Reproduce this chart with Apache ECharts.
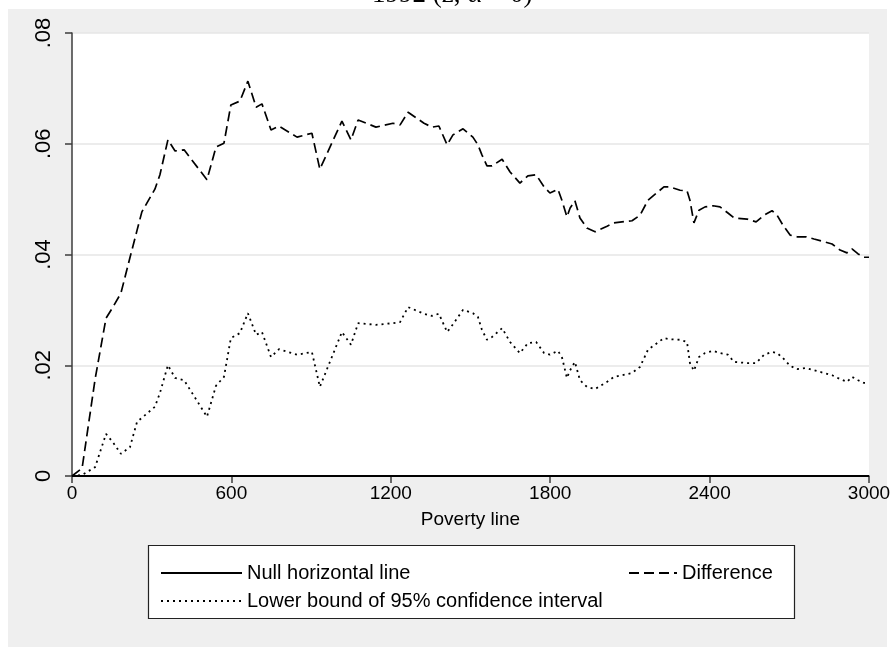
<!DOCTYPE html>
<html>
<head>
<meta charset="utf-8">
<title>Poverty dominance: difference and lower confidence bound</title>
<script src="https://cdn.jsdelivr.net/npm/echarts@6/dist/echarts.min.js"></script>
<style>
  html, body { margin: 0; padding: 0; background: #ffffff; }
  #chart { width: 895px; height: 647px; }
</style>
</head>
<body>
<div id="chart"></div>
<script>
// Poverty line grid (x) shared by both estimated curves
const povertyLine = [
  0, 38, 87, 128, 154, 184, 218, 245, 263, 312, 331, 361, 388, 422, 508, 542, 572, 598,
  632, 662, 693, 715, 749, 779, 847, 903, 933, 1016, 1050, 1077, 1144, 1208, 1235, 1265,
  1325, 1355, 1381, 1412, 1434, 1472, 1509, 1528, 1543, 1562, 1581, 1619, 1649, 1686,
  1716, 1747, 1777, 1799, 1829, 1844, 1863, 1875, 1893, 1912, 1938, 1969, 2014, 2040,
  2108, 2138, 2168, 2228, 2251, 2289, 2315, 2326, 2341, 2360, 2383, 2413, 2439, 2469,
  2492, 2541, 2575, 2605, 2635, 2654, 2676, 2703, 2729, 2763, 2793, 2831, 2861, 2891,
  2917, 2936, 2959, 2981, 3000
];

// Estimated difference between the two curves
const difference = [
  0, 0.0014, 0.0175, 0.0285, 0.0305, 0.0330, 0.0394, 0.0444, 0.0477, 0.0518, 0.0544,
  0.0607, 0.0587, 0.0589, 0.0535, 0.0594, 0.0601, 0.0670, 0.0677, 0.0713, 0.0666,
  0.0672, 0.0625, 0.0632, 0.0612, 0.0619, 0.0554, 0.0641, 0.0607, 0.0643, 0.0630,
  0.0637, 0.0634, 0.0657, 0.0637, 0.0630, 0.0632, 0.0598, 0.0616, 0.0627, 0.0612,
  0.0598, 0.0580, 0.0560, 0.0560, 0.0572, 0.0549, 0.0529, 0.0542, 0.0544, 0.0522,
  0.0511, 0.0518, 0.0498, 0.0468, 0.0484, 0.0497, 0.0466, 0.0448, 0.0441, 0.0451,
  0.0457, 0.0461, 0.0471, 0.0498, 0.0522, 0.0522, 0.0516, 0.0515, 0.0498, 0.0457,
  0.0480, 0.0486, 0.0488, 0.0486, 0.0475, 0.0466, 0.0464, 0.0459, 0.0471, 0.0479,
  0.0471, 0.0453, 0.0435, 0.0432, 0.0432, 0.0428, 0.0423, 0.0419, 0.0408, 0.0403,
  0.0410, 0.0401, 0.0395, 0.0395
];

// Lower bound of the 95% confidence interval of the difference
const lowerBound = [
  0, 0.0002, 0.0016, 0.0076, 0.0061, 0.0040, 0.0052, 0.0098, 0.0105, 0.0125, 0.0150,
  0.0200, 0.0177, 0.0173, 0.0107, 0.0163, 0.0179, 0.0249, 0.0258, 0.0294, 0.0255,
  0.0260, 0.0215, 0.0229, 0.0219, 0.0224, 0.0161, 0.0260, 0.0237, 0.0276, 0.0273,
  0.0276, 0.0278, 0.0305, 0.0293, 0.0289, 0.0293, 0.0260, 0.0274, 0.0300, 0.0294,
  0.0287, 0.0264, 0.0246, 0.0251, 0.0267, 0.0242, 0.0222, 0.0240, 0.0242, 0.0222,
  0.0219, 0.0226, 0.0215, 0.0177, 0.0191, 0.0206, 0.0173, 0.0161, 0.0157, 0.0170,
  0.0179, 0.0186, 0.0197, 0.0228, 0.0249, 0.0247, 0.0246, 0.0242, 0.0204, 0.0190,
  0.0215, 0.0222, 0.0226, 0.0222, 0.0219, 0.0206, 0.0204, 0.0204, 0.0219, 0.0224,
  0.0222, 0.0213, 0.0199, 0.0193, 0.0195, 0.0191, 0.0186, 0.0182, 0.0175, 0.0170,
  0.0179, 0.0173, 0.0168, 0.0168
];

// Reference line at zero
const nullX = [0, 3000];
const nullY = [0, 0];

// Axis ticks and their labels
const xTicks = [0, 600, 1200, 1800, 2400, 3000];
const yTicks = [0, 0.02, 0.04, 0.06, 0.08];
const yTickLabels = ['0', '.02', '.04', '.06', '.08'];

const NAME_NULL = 'Null horizontal line';
const NAME_DIFF = 'Difference';
const NAME_LOW = 'Lower bound of 95% confidence interval';

const pairs = (xs, ys) => xs.map((x, i) => [x, ys[i]]);

const FONT = '"Liberation Sans", Arial, Helvetica, sans-serif';
const AXIS_COLOR = '#3c3c3c';

const chart = echarts.init(document.getElementById('chart'), null, { renderer: 'canvas' });

const legendText = { fontFamily: FONT, fontSize: 20, color: '#000' };
// legend keys show the line pattern only, no marker
const legendBase = {
  itemHeight: 14, itemGap: 10, textStyle: legendText, selectedMode: false,
  itemStyle: { opacity: 0 }
};

chart.setOption({
  animation: false,
  backgroundColor: '#ffffff',
  graphic: [
    // graph region background
    { type: 'rect', z: -10, silent: true,
      shape: { x: 8, y: 9, width: 879, height: 640 },
      style: { fill: '#efefef' } },
    // title, mostly above the visible area
    { type: 'text', z: -5, silent: true, left: 372, top: -19,
      style: { text: '1992 (z, \u03b1 = 0)', font: '27px "Liberation Serif", "DejaVu Serif", serif', fill: '#000' } },
    // legend frame
    { type: 'rect', z: 1, silent: true,
      shape: { x: 148.5, y: 545.5, width: 646, height: 73 },
      style: { fill: '#ffffff', stroke: '#222', lineWidth: 1.2 } }
  ],
  grid: {
    left: 72, right: 26, top: 33, bottom: 171,
    show: true, backgroundColor: '#ffffff', borderWidth: 0
  },
  xAxis: {
    type: 'value', min: 0, max: 3000, interval: 600,
    name: 'Poverty line', nameLocation: 'middle', nameGap: 34,
    nameTextStyle: { fontFamily: FONT, fontSize: 19, color: '#000' },
    axisLine: { show: true, onZero: false, lineStyle: { color: AXIS_COLOR, width: 1.5 } },
    axisTick: { show: true, length: 7, lineStyle: { color: AXIS_COLOR, width: 1.5 } },
    axisLabel: { fontFamily: FONT, fontSize: 19, color: '#000', margin: 8,
      formatter: v => (xTicks.indexOf(v) >= 0 ? String(v) : '') },
    splitLine: { show: false }
  },
  yAxis: {
    type: 'value', min: 0, max: 0.08, interval: 0.02,
    axisLine: { show: true, lineStyle: { color: AXIS_COLOR, width: 1.5 } },
    axisTick: { show: true, length: 7, lineStyle: { color: AXIS_COLOR, width: 1.5 } },
    axisLabel: { fontFamily: FONT, fontSize: 22, color: '#000', margin: 17, rotate: 90,
      formatter: v => {
        const i = yTicks.findIndex(t => Math.abs(t - v) < 1e-9);
        return i >= 0 ? yTickLabels[i] : '';
      } },
    splitLine: { show: true, lineStyle: { color: '#e6e6e6', width: 1.5 } }
  },
  legend: [
    Object.assign({ data: [NAME_NULL], left: 155, top: 558, itemWidth: 81 }, legendBase),
    Object.assign({ data: [NAME_DIFF], left: 623, top: 558, itemWidth: 48 }, legendBase),
    Object.assign({ data: [NAME_LOW], left: 155, top: 586, itemWidth: 81 }, legendBase)
  ],
  series: [
    { name: NAME_DIFF, type: 'line', data: pairs(povertyLine, difference),
      symbol: 'none', z: 3,
      lineStyle: { color: '#000', width: 1.7, type: [10, 5] },
      itemStyle: { color: '#000' } },
    { name: NAME_LOW, type: 'line', data: pairs(povertyLine, lowerBound),
      symbol: 'none', z: 3,
      lineStyle: { color: '#000', width: 1.8, type: [2, 4] },
      itemStyle: { color: '#000' } },
    { name: NAME_NULL, type: 'line', data: pairs(nullX, nullY),
      symbol: 'none', z: 4,
      lineStyle: { color: '#000', width: 2.2, type: 'solid' },
      itemStyle: { color: '#000' } }
  ]
});
</script>
</body>
</html>
